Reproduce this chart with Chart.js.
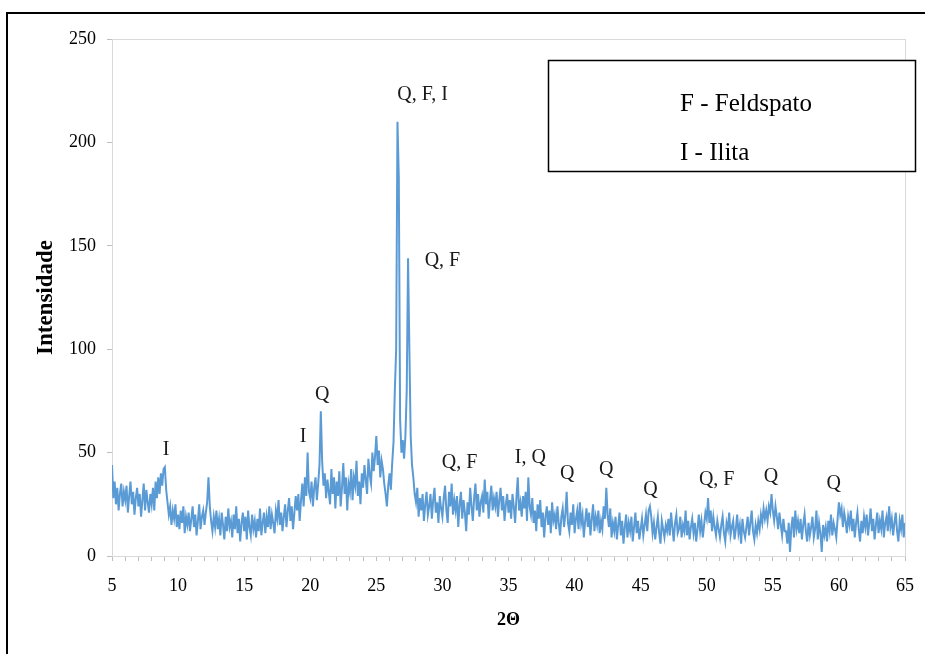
<!DOCTYPE html>
<html>
<head>
<meta charset="utf-8">
<script src="https://cdn.jsdelivr.net/npm/chart.js@4.4.1/dist/chart.umd.min.js"></script>
<style>
  html, body { margin: 0; padding: 0; background: #fff; overflow: hidden; }
  #wrap { position: relative; width: 925px; height: 654px; }
  #frame { position: absolute; left: 6px; top: 12px; width: 1000px; height: 1000px;
           border-left: 2px solid #000; border-top: 2px solid #000; }
  canvas { position: absolute; left: 0; top: 0; }
</style>
</head>
<body>
<div id="wrap">
  <div id="frame"></div>
  <canvas id="xrd" width="925" height="654"></canvas>
</div>
<script>
// varrimento 2θ de 5 a 65, passo 0.1 (uma linha por grau)
const START_ANGLE = 5;
const STEP = 0.1;
const counts = [
  44, 28, 36, 25, 33, 22, 30, 35, 24, 31,   // 5
  27, 34, 21, 29, 36, 25, 31, 20, 28, 33,   // 6
  24, 30, 19, 27, 35, 22, 32, 26, 21, 30,   // 7
  25, 33, 22, 36, 28, 38, 30, 40, 34, 42,   // 8
  43, 32, 26, 20, 24, 15, 22, 18, 25, 14,   // 9
  20, 13, 22, 16, 24, 11, 19, 15, 21, 12,   // 10
  18, 24, 14, 20, 10, 17, 25, 13, 19, 22,   // 11
  15, 21, 26, 38, 24, 17, 12, 19, 14, 22,   // 12
  13, 18, 10, 21, 15, 8, 19, 12, 23, 14,    // 13
  17, 9, 20, 13, 24, 11, 18, 7, 16, 21,     // 14
  12, 19, 8, 22, 14, 10, 20, 13, 17, 9,     // 15
  18, 12, 23, 10, 16, 21, 11, 19, 14, 24,   // 16
  13, 20, 16, 11, 22, 18, 27, 15, 21, 12,   // 17
  19, 25, 14, 22, 28, 17, 24, 13, 21, 29,   // 18
  22, 30, 17, 27, 35, 24, 38, 29, 50, 31,   // 19
  28, 36, 24, 33, 38, 27, 35, 44, 70, 46,   // 20
  34, 40, 28, 37, 31, 25, 42, 30, 38, 23,   // 21
  36, 29, 41, 24, 33, 45, 30, 38, 22, 35,   // 22
  31, 42, 27, 38, 34, 46, 29, 36, 25, 40,   // 23
  33, 44, 37, 30, 47, 39, 35, 50, 41, 48,   // 24
  58, 44, 51, 38, 46, 42, 35, 30, 24, 34,   // 25
  40, 32, 45, 55, 80, 100, 210, 183, 66, 50, // 26
  56, 47, 58, 80, 144, 100, 58, 44, 38, 30, // 27
  26, 33, 19, 28, 22, 30, 17, 25, 31, 20,   // 28
  24, 30, 18, 27, 33, 21, 26, 16, 29, 23,   // 29
  19, 28, 34, 22, 16, 31, 24, 35, 20, 27,   // 30
  22, 29, 14, 25, 31, 18, 27, 21, 12, 26,   // 31
  20, 33, 24, 17, 28, 35, 22, 30, 19, 26,   // 32
  29, 21, 37, 25, 31, 18, 27, 34, 22, 28,   // 33
  24, 31, 19, 27, 33, 22, 29, 17, 25, 30,   // 34
  21, 27, 18, 30, 24, 16, 28, 38, 22, 26,   // 35
  19, 29, 23, 31, 17, 38, 24, 20, 28, 16,   // 36
  22, 12, 25, 18, 27, 14, 21, 9, 19, 24,    // 37
  15, 22, 11, 26, 17, 20, 13, 24, 16, 10,   // 38
  19, 23, 14, 20, 31, 16, 12, 21, 15, 25,   // 39
  11, 18, 22, 13, 26, 16, 20, 9, 17, 23,    // 40
  14, 21, 10, 18, 25, 12, 19, 15, 22, 11,   // 41
  17, 13, 24, 18, 33, 20, 14, 23, 9, 16,    // 42
  12, 19, 8, 15, 21, 10, 17, 6, 14, 20,     // 43
  9, 16, 12, 19, 7, 14, 21, 11, 17, 8,      // 44
  13, 18, 10, 15, 20, 12, 22, 24, 19, 11,   // 45
  16, 8, 14, 19, 11, 6, 17, 13, 9, 15,      // 46
  12, 18, 10, 21, 14, 7, 16, 20, 11, 13,    // 47
  19, 9, 15, 12, 22, 10, 17, 8, 14, 18,     // 48
  11, 16, 7, 13, 20, 12, 17, 9, 15, 21,     // 49
  18, 28, 16, 22, 12, 19, 14, 10, 17, 13,   // 50
  9, 15, 19, 11, 7, 16, 13, 21, 10, 14,     // 51
  17, 8, 13, 20, 11, 15, 6, 18, 12, 9,      // 52
  14, 19, 10, 16, 22, 12, 8, 15, 11, 17,    // 53
  13, 20, 16, 23, 18, 22, 17, 24, 21, 30,   // 54
  22, 17, 24, 19, 13, 21, 15, 10, 18, 12,   // 55
  12, 6, 16, 2, 14, 19, 9, 22, 13, 17,      // 56
  11, 18, 8, 15, 20, 12, 7, 16, 10, 14,     // 57
  19, 9, 13, 22, 8, 16, 11, 2, 15, 10,      // 58
  14, 7, 17, 12, 20, 10, 16, 13, 9, 18,     // 59
  26, 20, 23, 14, 21, 17, 11, 19, 15, 22,   // 60
  12, 18, 9, 16, 21, 13, 7, 17, 11, 19,     // 61
  14, 20, 10, 16, 23, 12, 18, 8, 15, 21,    // 62
  11, 17, 13, 22, 9, 16, 19, 12, 24, 14,    // 63
  18, 10, 16, 21, 12, 7, 17, 13, 20, 9,     // 64
  16                                        // 65
];

// identificação dos picos (texto, posição 2θ, altura)
const peakLabels  = ['Q, F, I', 'Q, F', 'Q', 'I', 'I', 'Q, F', 'I, Q', 'Q', 'Q', 'Q', 'Q, F', 'Q', 'Q'];
const peakAngles  = [28.5, 30.0, 20.9, 19.45, 9.1, 31.3, 36.65, 39.45, 42.4, 45.75, 50.75, 54.85, 59.6];
const peakHeights = [223, 143, 78, 57.5, 51.3, 45, 47.4, 40, 41.6, 32, 36.8, 38.2, 34.8];

// legenda das fases
const phaseLegend = ['F - Feldspato', 'I - Ilita'];

const yTicks = [0, 50, 100, 150, 200, 250];

const points = counts.map((c, i) => ({ x: +(START_ANGLE + i * STEP).toFixed(1), y: c }));

const serif = '"Liberation Serif", "Times New Roman", serif';

const plotFrame = {
    id: 'plotFrame',
    beforeDatasetsDraw(chart) {
        const { ctx, chartArea: a } = chart;
        ctx.save();
        ctx.strokeStyle = '#d9d9d9';
        ctx.lineWidth = 1;
        ctx.strokeRect(a.left + 0.5, a.top + 0.5, a.right - a.left, a.bottom - a.top);
        ctx.restore();
    }
};

const peakText = {
    id: 'peakText',
    afterDatasetsDraw(chart) {
        const { ctx, scales } = chart;
        ctx.save();
        ctx.font = '20px ' + serif;
        ctx.fillStyle = '#1a1a1a';
        ctx.textAlign = 'center';
        ctx.textBaseline = 'middle';
        peakLabels.forEach((t, i) => {
            ctx.fillText(t, scales.x.getPixelForValue(peakAngles[i]), scales.y.getPixelForValue(peakHeights[i]));
        });

        // caixa da legenda
        ctx.fillStyle = '#fff';
        ctx.fillRect(548, 60, 368, 112);
        ctx.strokeStyle = '#000';
        ctx.lineWidth = 1.5;
        ctx.strokeRect(548.5, 60.5, 367, 111);
        ctx.fillStyle = '#000';
        ctx.font = '25px ' + serif;
        ctx.textAlign = 'left';
        phaseLegend.forEach((t, i) => ctx.fillText(t, 680, 104 + i * 49));
        ctx.restore();
    }
};

new Chart(document.getElementById('xrd'), {
    type: 'line',
    data: {
        datasets: [{
            data: points,
            borderColor: '#5b9bd5',
            borderWidth: 2,
            pointRadius: 0,
            tension: 0,
            fill: false
        }]
    },
    options: {
        responsive: false,
        animation: false,
        events: [],
        layout: { padding: { left: 0, right: 20, top: 39, bottom: 0 } },
        plugins: { legend: { display: false }, tooltip: { enabled: false } },
        scales: {
            x: {
                type: 'linear',
                min: 5,
                max: 65,
                afterFit: s => { s.height = 98; s.paddingLeft = 0; s.paddingRight = 0; },
                ticks: {
                    stepSize: 1,
                    autoSkip: false,
                    maxRotation: 0,
                    padding: 14,
                    color: '#000',
                    font: { family: serif, size: 18 },
                    callback: v => (v % 5 === 0 ? v : '')
                },
                grid: { drawOnChartArea: false, tickLength: 5, color: '#bfbfbf' },
                border: { color: '#bfbfbf' },
                title: {
                    display: true,
                    text: '2Θ',
                    color: '#000',
                    font: { family: serif, size: 18, weight: 'bold' },
                    padding: { top: 0, bottom: 23 }
                }
            },
            y: {
                min: 0,
                max: 250,
                afterFit: s => { s.width = 112; s.paddingTop = 0; s.paddingBottom = 0; },
                afterBuildTicks: s => { s.ticks = yTicks.map(v => ({ value: v })); },
                ticks: {
                    padding: 11,
                    color: '#000',
                    font: { family: serif, size: 18 }
                },
                grid: { drawOnChartArea: false, tickLength: 5, color: '#bfbfbf' },
                border: { color: '#bfbfbf' },
                title: {
                    display: true,
                    text: 'Intensidade',
                    color: '#000',
                    font: { family: serif, size: 23, weight: 'bold' },
                    padding: { top: 32, bottom: 0 }
                }
            }
        }
    },
    plugins: [plotFrame, peakText]
});
</script>
</body>
</html>
